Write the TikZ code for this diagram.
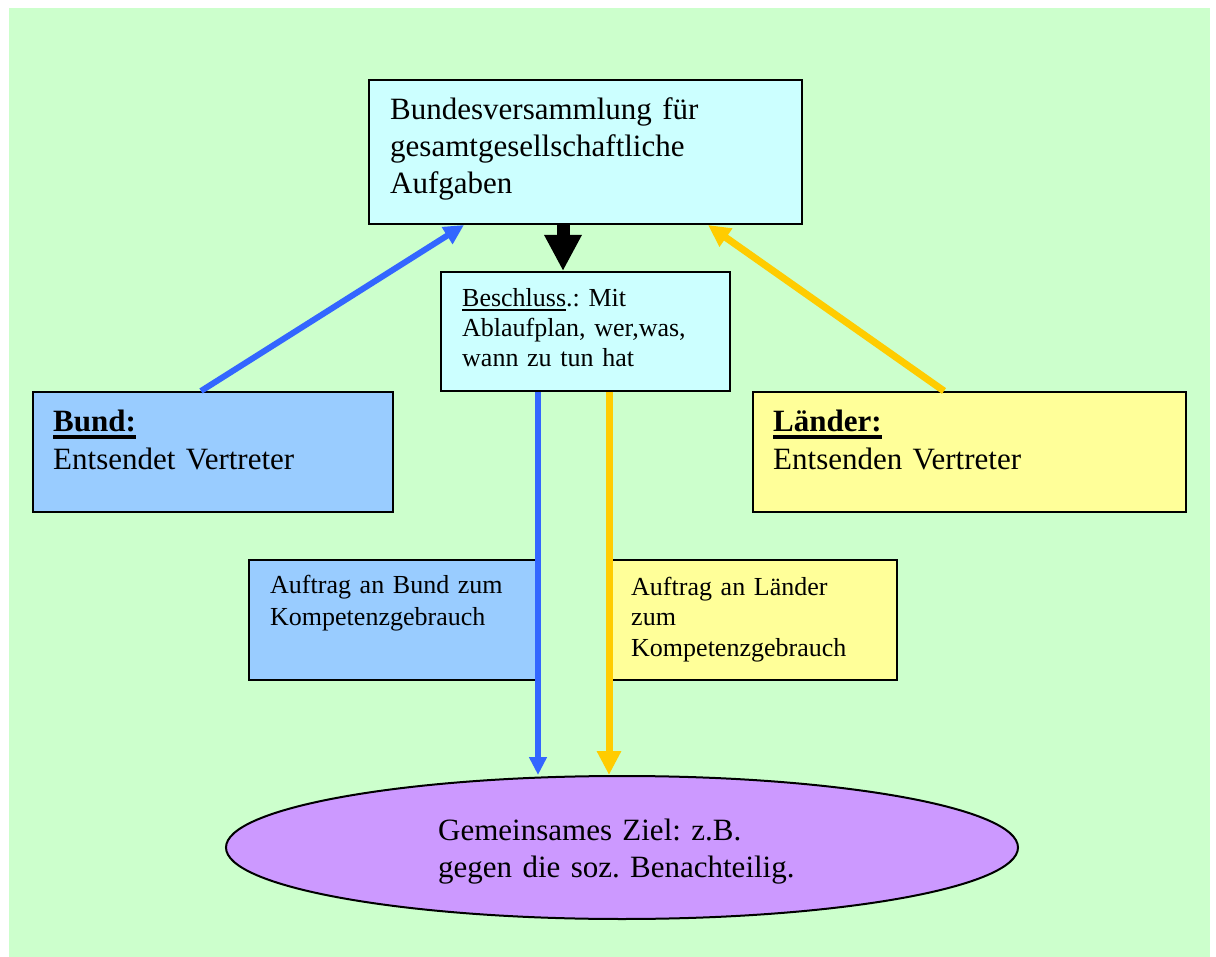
\documentclass[tikz,border=0pt]{standalone}
\usepackage{fontspec}
\setmainfont{Liberation Serif}
\usetikzlibrary{arrows.meta,shapes.geometric}
\definecolor{bg}{HTML}{CCFFCC}
\definecolor{cyanbox}{HTML}{CCFFFF}
\definecolor{bluebox}{HTML}{99CCFF}
\definecolor{yellowbox}{HTML}{FFFF99}
\definecolor{violet}{HTML}{CC99FF}
\definecolor{bluearrow}{HTML}{3366FF}
\definecolor{yellowarrow}{HTML}{FFCC00}
\newcommand{\myul}[3]{\leavevmode\vtop{\hbox{#3}\kern#1\hrule height #2}}
\tikzset{
  box/.style={draw=black, line width=2pt, rectangle, inner sep=0pt},
  txt/.style={anchor=base west, inner sep=0pt, text width=420pt, align=left},
  bigfont/.style={font=\fontsize{31}{37}\selectfont},
  smallfont/.style={font=\fontsize{26}{30.5}\selectfont},
  bluediag/.style={draw=bluearrow, line width=6pt, -{Triangle[length=20pt,width=19pt]}},
  yellowdiag/.style={draw=yellowarrow, line width=7pt, -{Triangle[length=22pt,width=21pt]}},
  bluevert/.style={draw=bluearrow, line width=5.5pt, -{Triangle[length=18pt,width=17pt]}},
  yellowvert/.style={draw=yellowarrow, line width=7pt, -{Triangle[length=24pt,width=23pt]}},
  blackarr/.style={draw=black, line width=13pt, -{Triangle[length=36pt,width=35pt]}}
}
\begin{document}
\frenchspacing
\begin{tikzpicture}[x=1pt, y=-1pt]
\useasboundingbox (0,0) rectangle (1216,957);
\fill[bg] (9,8) rectangle (1210,957);

\node[box, fill=cyanbox, minimum width=433pt, minimum height=144pt] (top) at (585.5,152) {};
\node[box, fill=cyanbox, minimum width=289pt, minimum height=119pt] (besch) at (585.5,331.5) {};
\node[box, fill=bluebox, minimum width=360pt, minimum height=120pt] (bund) at (213,452) {};
\node[box, fill=yellowbox, minimum width=433pt, minimum height=120pt] (laender) at (969.5,452) {};
\node[box, fill=bluebox, minimum width=288pt, minimum height=120pt] (aufb) at (393,620) {};
\node[box, fill=yellowbox, minimum width=286pt, minimum height=120pt] (aufl) at (754,620) {};
\node[draw=black, line width=2pt, ellipse, fill=violet, inner sep=0pt, minimum width=792pt, minimum height=143pt] (goal) at (622,847.5) {};

\node[txt, bigfont] (toptxt) at (390,120) {\frenchspacing Bundesversammlung für\\gesamtgesellschaftliche\\Aufgaben};
\node[txt, font=\fontsize{26}{30}\selectfont] (beschtxt) at (462,307) {\frenchspacing\myul{2pt}{1.3pt}{Beschluss}.: Mit\\Ablaufplan, wer,was,\\wann zu tun hat};
\node[txt, bigfont] (bundtxt) at (53,432) {\frenchspacing\myul{3pt}{3.5pt}{\textbf{Bund:}}\\Entsendet Vertreter};
\node[txt, bigfont] (laendertxt) at (773,432) {\frenchspacing\myul{3pt}{3.5pt}{\textbf{Länder:}}\\Entsenden Vertreter};
\node[txt, font=\fontsize{26}{32}\selectfont] (aufbtxt) at (270,593) {\frenchspacing Auftrag an Bund zum\\Kompetenzgebrauch};
\node[txt, smallfont] (aufltxt) at (631,595) {\frenchspacing Auftrag an Länder\\zum\\Kompetenzgebrauch};
\node[txt, bigfont] (goaltxt) at (438,840) {\frenchspacing Gemeinsames Ziel: z.B.\\gegen die soz. Benachteilig.};

\coordinate (bundstart) at ([xshift=-12pt]bund.north);
\coordinate (bundend) at ([xshift=-121.5pt]top.south);
\coordinate (laenderstart) at ([xshift=-25.5pt]laender.north);
\coordinate (laenderend) at ([xshift=122.5pt]top.south);
\coordinate (blackstart) at ([xshift=-22.5pt]top.south);
\coordinate (bvstart) at ([xshift=-47.5pt]besch.south);
\coordinate (yvstart) at ([xshift=23.5pt]besch.south);

\draw[bluediag] (bundstart) -- (bundend);
\draw[yellowdiag] (laenderstart) -- (laenderend);
\draw[blackarr] (blackstart) -- (blackstart |- besch.north);
\draw[bluevert] (bvstart) -- (bvstart |- goal.north);
\draw[yellowvert] (yvstart) -- (yvstart |- goal.north);
\end{tikzpicture}
\end{document}
